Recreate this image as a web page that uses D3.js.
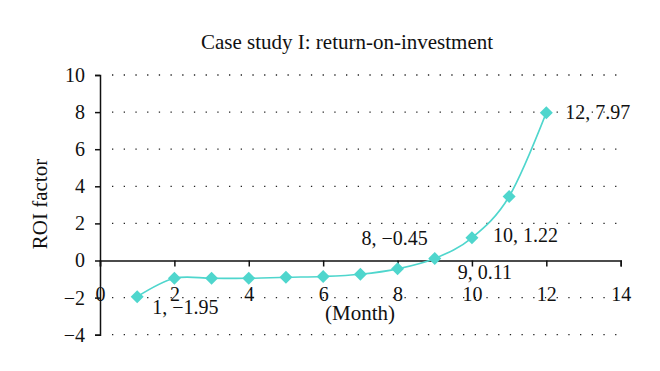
<!DOCTYPE html>
<html>
<head>
<meta charset="utf-8">
<script src="https://cdn.jsdelivr.net/npm/d3@7"></script>
<style>
  body { margin: 0; background: #fff; }
  svg { font-family: "Liberation Serif", "DejaVu Serif", serif; }
  .grid line { stroke: #222; stroke-width: 1.3; stroke-dasharray: 1.3, 10.4; }
</style>
</head>
<body>
<svg width="660" height="371"></svg>
<script>
const months = [1, 2, 3, 4, 5, 6, 7, 8, 9, 10, 11, 12];
const roi = [-1.95, -0.96, -0.96, -0.96, -0.9, -0.86, -0.74, -0.45, 0.11, 1.22, 3.45, 7.97];
const xTicks = [0, 2, 4, 6, 8, 10, 12, 14];
const yTicks = [-4, -2, 0, 2, 4, 6, 8, 10];
const labelled = [1, 8, 9, 10, 12];

const svg = d3.select('svg');
const teal = '#4fd6cd';
const serif = '"Liberation Serif", serif';

const x = d3.scaleLinear().domain([0, 14]).range([100, 620.7]);
const y = d3.scaleLinear().domain([-4, 10]).range([334.7, 75]);

const data = months.map((m, i) => ({month: m, roi: roi[i]}));

// title
svg.append('text')
    .attr('x', 347).attr('y', 49)
    .attr('text-anchor', 'middle')
    .attr('font-size', 21)
    .attr('fill', '#111')
    .text('Case study I: return-on-investment');

// dotted gridlines (0 is the x axis itself)
svg.append('g').attr('class', 'grid')
  .selectAll('line')
  .data(yTicks.filter(d => d !== 0))
  .enter().append('line')
    .attr('x1', x(0) + 12).attr('x2', x(14) - 4)
    .attr('y1', d => y(d)).attr('y2', d => y(d));

// y axis
const yAxis = svg.append('g')
    .attr('transform', `translate(${x(0)},0)`)
    .call(d3.axisLeft(y).tickValues(yTicks).tickSize(5).tickPadding(10)
        .tickFormat(d => d < 0 ? '\u2212' + Math.abs(d) : d));
yAxis.select('.domain').attr('stroke', '#111').attr('stroke-width', 1.5);
yAxis.selectAll('line').attr('stroke', '#111').attr('stroke-width', 1.5);
yAxis.selectAll('text').attr('font-size', 20).attr('fill', '#111')
    .attr('font-family', serif);

// x axis along y = 0, labels drop low
const xAxis = svg.append('g')
    .attr('transform', `translate(0,${y(0)})`)
    .call(d3.axisBottom(x).tickValues(xTicks).tickSize(6).tickPadding(20));
xAxis.select('.domain').attr('stroke', '#111').attr('stroke-width', 1.5);
xAxis.selectAll('line').attr('stroke', '#111').attr('stroke-width', 1.5);
xAxis.selectAll('text').attr('font-size', 20).attr('fill', '#111')
    .attr('font-family', serif);

// axis titles
svg.append('text')
    .attr('x', 360).attr('y', 320)
    .attr('text-anchor', 'middle')
    .attr('font-size', 21)
    .attr('fill', '#111')
    .text('(Month)');

svg.append('text')
    .attr('transform', 'translate(47,204) rotate(-90)')
    .attr('text-anchor', 'middle')
    .attr('font-size', 21)
    .attr('fill', '#111')
    .text('ROI factor');

// smoothed line
const line = d3.line()
    .x(d => x(d.month))
    .y(d => y(d.roi))
    .curve(d3.curveCardinal);

svg.append('path')
    .datum(data)
    .attr('fill', 'none')
    .attr('stroke', teal)
    .attr('stroke-width', 1.6)
    .attr('d', line);

// diamond markers
svg.selectAll('.marker')
  .data(data)
  .enter().append('path')
    .attr('class', 'marker')
    .attr('transform', d => `translate(${x(d.month)},${y(d.roi)})`)
    .attr('d', 'M0,-6.5L6.5,0L0,6.5L-6.5,0Z')
    .attr('fill', teal);

// data labels
const offsets = {
  1: {dx: 15, dy: 17, anchor: 'start'},
  8: {dx: -3, dy: -24, anchor: 'middle'},
  9: {dx: 23, dy: 21, anchor: 'start'},
  10: {dx: 21, dy: 4, anchor: 'start'},
  12: {dx: 19, dy: 6, anchor: 'start'}
};
const fmt = v => (v < 0 ? '\u2212' + Math.abs(v).toFixed(2) : v.toFixed(2));

svg.selectAll('.dlabel')
  .data(data.filter(d => labelled.includes(d.month)))
  .enter().append('text')
    .attr('class', 'dlabel')
    .attr('x', d => x(d.month) + offsets[d.month].dx)
    .attr('y', d => y(d.roi) + offsets[d.month].dy)
    .attr('text-anchor', d => offsets[d.month].anchor)
    .attr('font-size', 20)
    .attr('fill', '#111')
    .text(d => `${d.month}, ${fmt(d.roi)}`);
</script>
</body>
</html>
